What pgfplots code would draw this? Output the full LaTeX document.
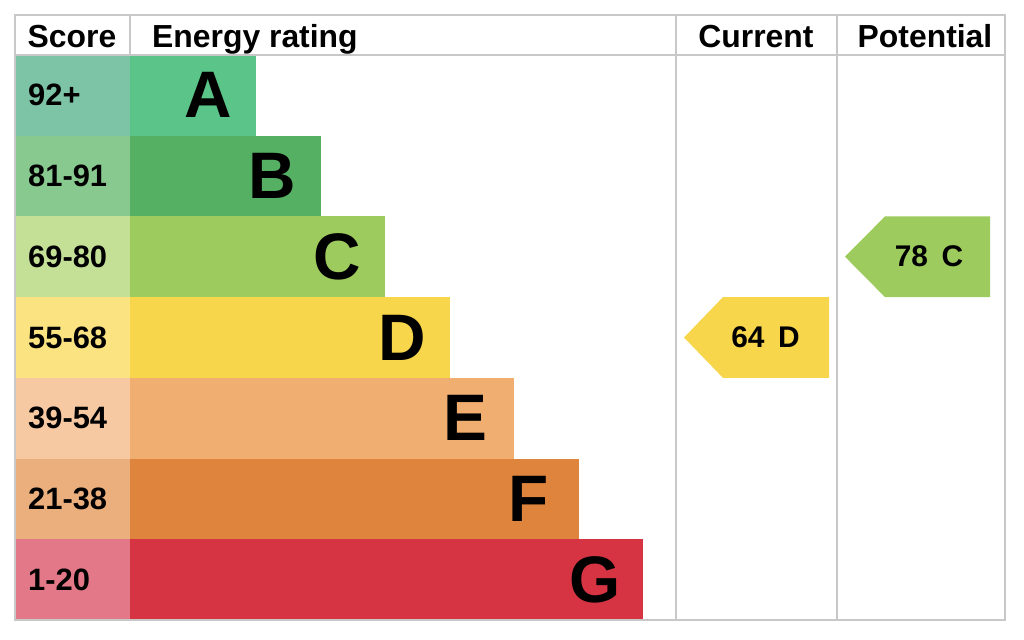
\documentclass[border=0pt]{standalone}
\usepackage{pgfplots}
\pgfplotsset{compat=1.18}
\usepackage{fontspec}
\setmainfont{Liberation Sans}
\definecolor{barA}{HTML}{5BC589}\definecolor{scA}{HTML}{7DC4A7}
\definecolor{barB}{HTML}{55B063}\definecolor{scB}{HTML}{88C98F}
\definecolor{barC}{HTML}{9ECB5D}\definecolor{scC}{HTML}{C3E096}
\definecolor{barD}{HTML}{F7D64B}\definecolor{scD}{HTML}{FBE381}
\definecolor{barE}{HTML}{F0AE70}\definecolor{scE}{HTML}{F6C9A2}
\definecolor{barF}{HTML}{DF843C}\definecolor{scF}{HTML}{EBAF7D}
\definecolor{barG}{HTML}{D63443}\definecolor{scG}{HTML}{E27888}
\definecolor{gridc}{HTML}{C8C8C8}
\begin{document}
\begin{tikzpicture}
\begin{axis}[scale only axis, width=1024bp, height=639bp,
  xmin=0, xmax=1024, ymin=0, ymax=639, y dir=reverse, hide axis, clip=false]
\path (axis cs:0,0) rectangle (axis cs:1024,639);
% score column
\addplot[fill=scA, draw=none] coordinates {(15,55) (130,55) (130,135.7) (15,135.7)} --cycle;
\addplot[fill=scB, draw=none] coordinates {(15,135.7) (130,135.7) (130,216.4) (15,216.4)} --cycle;
\addplot[fill=scC, draw=none] coordinates {(15,216.4) (130,216.4) (130,297.1) (15,297.1)} --cycle;
\addplot[fill=scD, draw=none] coordinates {(15,297.1) (130,297.1) (130,377.9) (15,377.9)} --cycle;
\addplot[fill=scE, draw=none] coordinates {(15,377.9) (130,377.9) (130,458.6) (15,458.6)} --cycle;
\addplot[fill=scF, draw=none] coordinates {(15,458.6) (130,458.6) (130,539.3) (15,539.3)} --cycle;
\addplot[fill=scG, draw=none] coordinates {(15,539.3) (130,539.3) (130,620) (15,620)} --cycle;
% bars
\addplot[fill=barA, draw=none] coordinates {(130,55) (256,55) (256,135.7) (130,135.7)} --cycle;
\addplot[fill=barB, draw=none] coordinates {(130,135.7) (321,135.7) (321,216.4) (130,216.4)} --cycle;
\addplot[fill=barC, draw=none] coordinates {(130,216.4) (385,216.4) (385,297.1) (130,297.1)} --cycle;
\addplot[fill=barD, draw=none] coordinates {(130,297.1) (450,297.1) (450,377.9) (130,377.9)} --cycle;
\addplot[fill=barE, draw=none] coordinates {(130,377.9) (514,377.9) (514,458.6) (130,458.6)} --cycle;
\addplot[fill=barF, draw=none] coordinates {(130,458.6) (579,458.6) (579,539.3) (130,539.3)} --cycle;
\addplot[fill=barG, draw=none] coordinates {(130,539.3) (643,539.3) (643,620) (130,620)} --cycle;
% arrows
\addplot[fill=barD, draw=none] coordinates {(684,337.5) (723,297.1) (829,297.1) (829,377.9) (723,377.9)} --cycle;
\addplot[fill=barC, draw=none] coordinates {(845,256.7) (885,216.4) (990,216.4) (990,297.1) (885,297.1)} --cycle;
% grid lines
\draw[gridc, line width=1.5bp] (axis cs:15,15) -- (axis cs:1005,15) -- (axis cs:1005,620) -- (axis cs:15,620) -- cycle;
\draw[gridc, line width=1.5bp] (axis cs:15,55) -- (axis cs:1005,55);
\draw[gridc, line width=1.5bp] (axis cs:130,15) -- (axis cs:130,55);
\draw[gridc, line width=1.5bp] (axis cs:676,15) -- (axis cs:676,620);
\draw[gridc, line width=1.5bp] (axis cs:837,15) -- (axis cs:837,620);
% header
\tikzset{hd/.style={anchor=base, inner sep=0pt, font=\fontsize{32}{34}\selectfont\bfseries}}
\node[hd] at (axis cs:72,47.5) {Score};
\node[hd, anchor=base west] at (axis cs:152,47.5) {Energy rating};
\node[hd] at (axis cs:756,47.5) {Current};
\node[hd] at (axis cs:925,47.5) {Potential};
% score labels
\tikzset{sc/.style={anchor=west, inner sep=0pt, font=\fontsize{31}{33}\selectfont\bfseries}}
\node[sc] at (axis cs:28,95.3) {92+};
\node[sc] at (axis cs:28,176) {81-91};
\node[sc] at (axis cs:28,256.7) {69-80};
\node[sc] at (axis cs:28,337.5) {55-68};
\node[sc] at (axis cs:28,418.2) {39-54};
\node[sc] at (axis cs:28,498.9) {21-38};
\node[sc] at (axis cs:28,579.6) {1-20};
% letters
\tikzset{lt/.style={anchor=east, inner sep=0pt, font=\fontsize{66}{66}\selectfont\bfseries}}
\node[lt] at (axis cs:232,95.3) {A};
\node[lt] at (axis cs:296,176) {B};
\node[lt] at (axis cs:361,256.7) {C};
\node[lt] at (axis cs:426,337.5) {D};
\node[lt] at (axis cs:488,418.2) {E};
\node[lt] at (axis cs:549,498.9) {F};
\node[lt] at (axis cs:621,579.6) {G};
% arrow labels
\tikzset{ar/.style={anchor=center, inner sep=0pt, font=\fontsize{30}{32}\selectfont\bfseries}}
\node[ar] at (axis cs:765.5,337.5) {64\hspace{0.45em}D};
\node[ar] at (axis cs:929,256.7) {78\hspace{0.45em}C};
\end{axis}
\end{tikzpicture}
\end{document}
